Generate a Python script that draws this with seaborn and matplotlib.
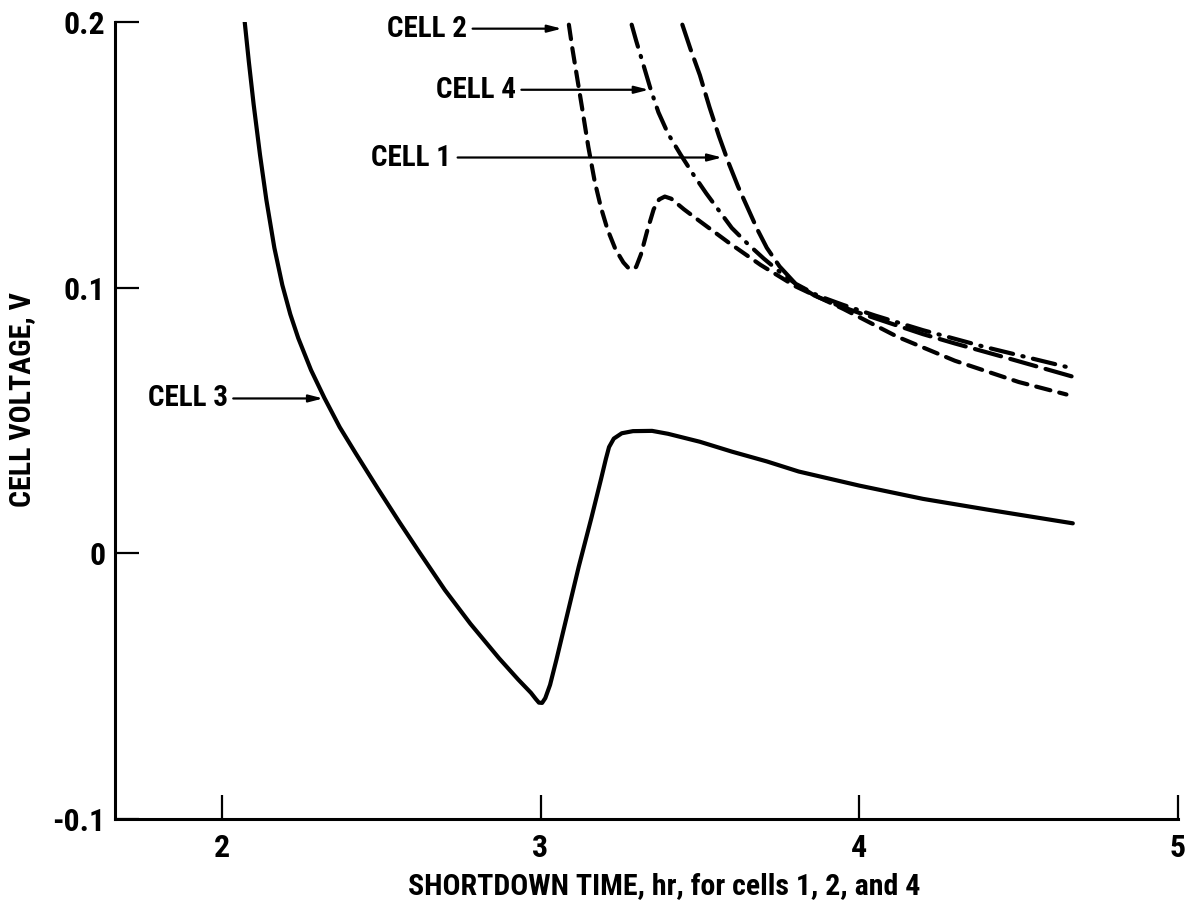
import matplotlib
matplotlib.use("Agg")
import matplotlib.pyplot as plt
import matplotlib.font_manager as fm
import seaborn as sns

# ---- data ----
cell3_x = [2.072, 2.085, 2.10, 2.12, 2.14, 2.165, 2.19, 2.215, 2.24, 2.28, 2.322, 2.37, 2.42,
           2.49, 2.557, 2.62, 2.70, 2.78, 2.87, 2.93, 2.97, 2.985, 2.995, 3.005, 3.015, 3.03, 3.05,
           3.08, 3.12, 3.16, 3.19, 3.205, 3.215, 3.23, 3.255, 3.29, 3.35, 3.40, 3.50, 3.60,
           3.71, 3.81, 4.0, 4.2, 4.4, 4.67]
cell3_y = [0.200, 0.185, 0.169, 0.150, 0.133, 0.115, 0.101, 0.090, 0.081, 0.069, 0.0585, 0.0475, 0.0377,
           0.0243, 0.0118, 0.0004, -0.0138, -0.0265, -0.0395, -0.0475, -0.0525, -0.0548, -0.0562, -0.0563, -0.0545, -0.0495, -0.040,
           -0.025, -0.005, 0.0135, 0.028, 0.0355, 0.040, 0.0432, 0.0452, 0.046, 0.0461, 0.045, 0.042, 0.0383,
           0.0346, 0.0308, 0.0255, 0.0205, 0.0165, 0.0113]

cell2_x = [3.089, 3.10, 3.115, 3.13, 3.15, 3.17, 3.19, 3.21, 3.235, 3.26, 3.275, 3.288, 3.30,
           3.315, 3.335, 3.355, 3.372, 3.39, 3.41, 3.45, 3.50, 3.59, 3.69, 3.80, 3.95, 4.12,
           4.30, 4.50, 4.65]
cell2_y = [0.199, 0.190, 0.179, 0.168, 0.153, 0.140, 0.130, 0.122, 0.1145, 0.1095, 0.1075, 0.1068, 0.1078,
           0.1125, 0.1215, 0.1295, 0.1332, 0.1343, 0.1335, 0.1295, 0.125, 0.117, 0.1086, 0.1005, 0.092, 0.0815,
           0.0725, 0.0645, 0.0598]

cell4_x = [3.286, 3.30, 3.32, 3.346, 3.37, 3.40, 3.44, 3.48, 3.52, 3.56, 3.60, 3.65, 3.70,
           3.75, 3.80, 3.87, 3.95, 4.05, 4.20, 4.40, 4.67]
cell4_y = [0.199, 0.193, 0.185, 0.1745, 0.166, 0.158, 0.150, 0.1425, 0.1355, 0.129, 0.1225, 0.1165, 0.111,
           0.106, 0.1015, 0.097, 0.0935, 0.0895, 0.084, 0.0775, 0.0696]

cell1_x = [3.445, 3.47, 3.50, 3.53, 3.56, 3.59, 3.62, 3.65, 3.68, 3.71, 3.75, 3.80, 3.86,
           3.93, 4.0, 4.1, 4.2, 4.3, 4.45, 4.67]
cell1_y = [0.199, 0.190, 0.180, 0.168, 0.157, 0.147, 0.138, 0.130, 0.122, 0.115, 0.108, 0.1015, 0.097,
           0.0935, 0.0905, 0.0865, 0.0825, 0.079, 0.074, 0.0665]

x_ticks = [2, 3, 4, 5]
y_ticks = [-0.1, 0, 0.1, 0.2]
y_ticklabels = ["-0.1", "0", "0.1", "0.2"]

labels = ["CELL 2", "CELL 4", "CELL 1", "CELL 3"]
label_text_xy = [(2.77, 0.1975), (2.923, 0.1745), (2.72, 0.149), (2.019, 0.0583)]
label_arrow_start = [(2.787, 0.1975), (2.94, 0.1745), (2.74, 0.149), (2.036, 0.0583)]
label_arrow_tip = [(3.067, 0.1975), (3.34, 0.1745), (3.57, 0.149), (2.318, 0.0583)]

# ---- style ----
sns.set_theme(style="white", rc={"text.color": "black", "axes.labelcolor": "black",
                                 "xtick.color": "black", "ytick.color": "black",
                                 "axes.edgecolor": "black"})
avail = {f.name for f in fm.fontManager.ttflist}
family = "DejaVu Sans"
for cand in ["Liberation Sans Narrow", "DejaVu Sans Condensed", "Roboto Condensed",
             "Open Sans Condensed", "Noto Sans Condensed", "Liberation Sans"]:
    if cand in avail:
        family = cand
        break
plt.rcParams["font.family"] = [family, "DejaVu Sans"]

fig = plt.figure(figsize=(11.94, 9.10), dpi=100)
ax = fig.add_axes([0.0963, 0.1, 0.9866 - 0.0963, 0.9758 - 0.1])

lw = 3.0
sns.lineplot(x=cell3_x, y=cell3_y, ax=ax, color="black", lw=lw, sort=False,
             solid_capstyle="round", solid_joinstyle="round")
sns.lineplot(x=cell2_x, y=cell2_y, ax=ax, color="black", lw=lw, sort=False,
             linestyle=(0, (3.5, 2.2)), dash_capstyle="round")
sns.lineplot(x=cell4_x, y=cell4_y, ax=ax, color="black", lw=lw, sort=False,
             linestyle=(0, (5.5, 2.3, 0.3, 2.3)), dash_capstyle="round")
sns.lineplot(x=cell1_x, y=cell1_y, ax=ax, color="black", lw=lw, sort=False,
             linestyle=(0, (6.5, 2.3)), dash_capstyle="round")

texts = []
for lab, txy, st, tip in zip(labels, label_text_xy, label_arrow_start, label_arrow_tip):
    t = ax.text(txy[0], txy[1], lab, ha="right", va="center", fontsize=21, fontweight="bold")
    texts.append(t)
    ax.annotate("", xy=tip, xytext=st,
                arrowprops=dict(arrowstyle="-|>,head_length=0.7,head_width=0.18",
                                color="black", lw=1.6, shrinkA=0, shrinkB=0))

ax.set_xlim(1.665, 5.0)
ax.set_ylim(-0.1, 0.2)
ax.set_xticks(x_ticks)
ax.set_xticklabels([str(t) for t in x_ticks])
ax.set_yticks(y_ticks)
ax.set_yticklabels(y_ticklabels)

for s in ["top", "right"]:
    ax.spines[s].set_visible(False)
for s in ["left", "bottom"]:
    ax.spines[s].set_color("black")
    ax.spines[s].set_linewidth(2.2)

ax.tick_params(axis="both", direction="in", length=17, width=1.6, colors="black",
               labelsize=23, left=True, bottom=True)
ax.tick_params(axis="y", pad=7)
ax.tick_params(axis="x", pad=10)
for t in ax.get_xticklabels() + ax.get_yticklabels():
    t.set_fontweight("bold")

xl = ax.set_xlabel("SHORTDOWN TIME, hr, for cells 1, 2, and 4", fontsize=21.5, fontweight="bold")
yl = ax.set_ylabel("CELL VOLTAGE, V", fontsize=21.5, fontweight="bold")
ax.xaxis.set_label_coords(0.517, -0.066)
ax.yaxis.set_label_coords(-0.074, 0.526)

# scale all text so that the x label has the reference width (~512 px)
fig.canvas.draw()
r = fig.canvas.get_renderer()
w = xl.get_window_extent(r).width
scale = 512.0 / w
for t in texts + [xl, yl] + ax.get_xticklabels() + ax.get_yticklabels():
    t.set_fontsize(t.get_fontsize() * scale)

fig.savefig("out.png", dpi=100, facecolor="white")
